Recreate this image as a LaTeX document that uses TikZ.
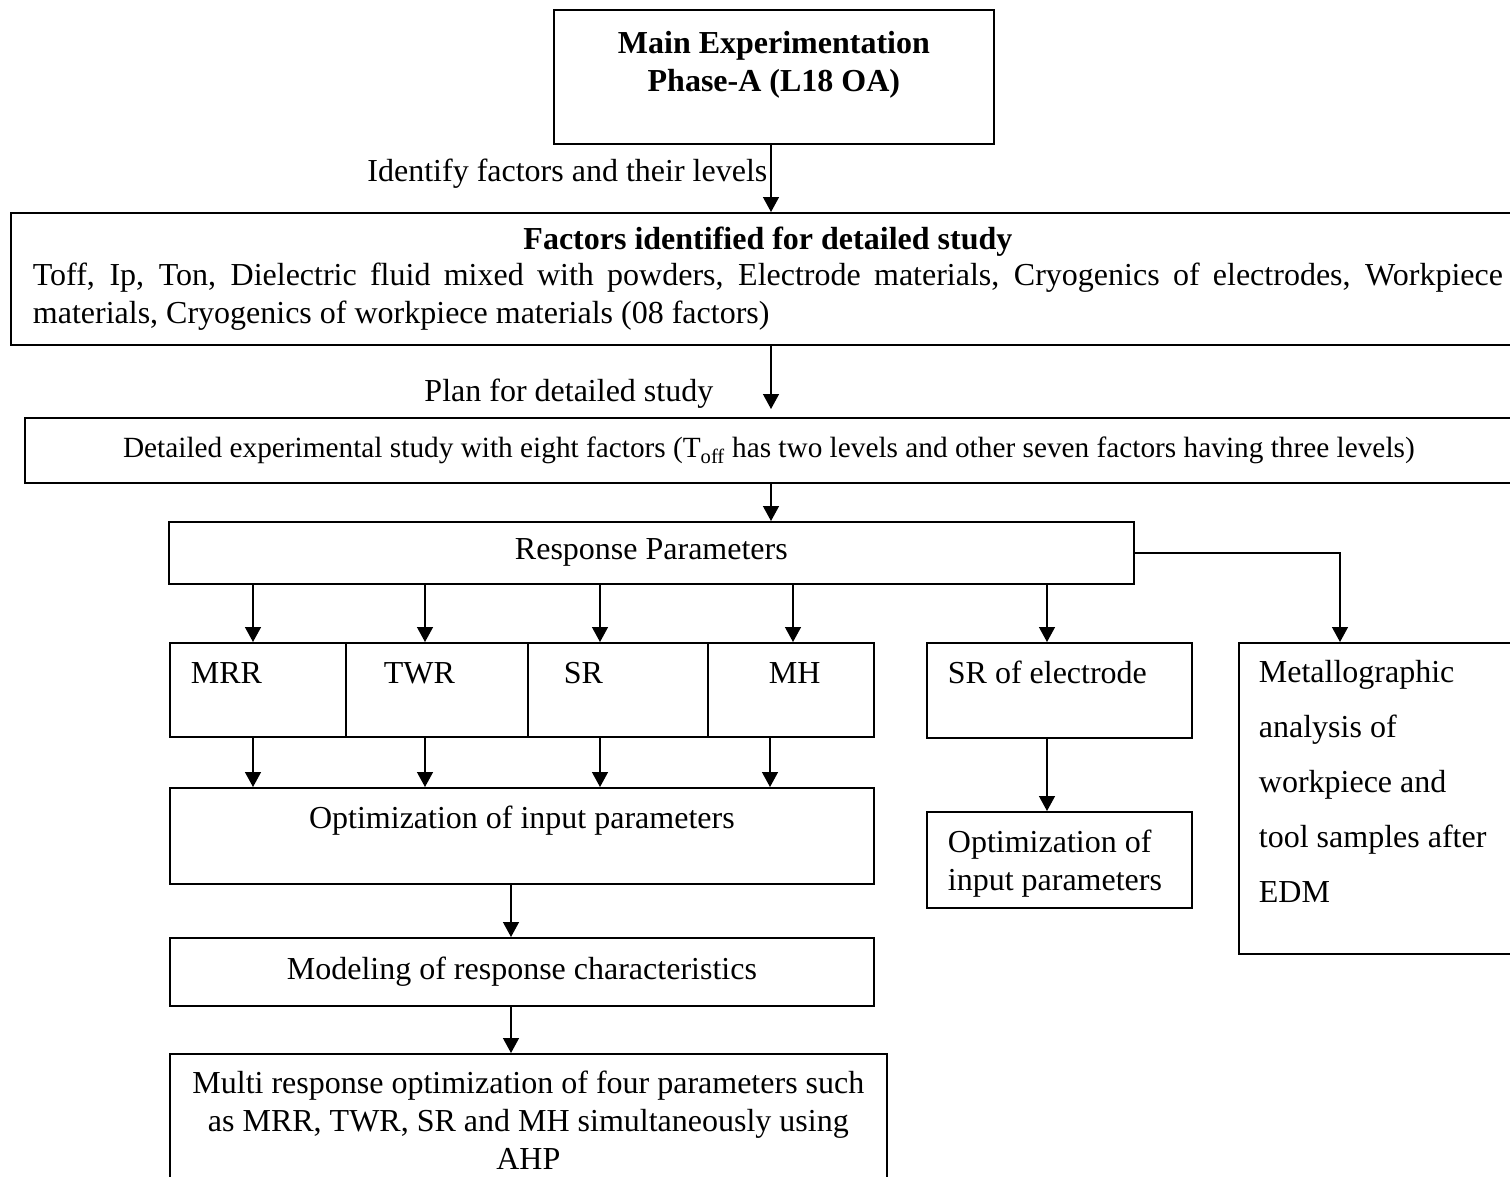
\documentclass[tikz,border=0pt]{standalone}
\usepackage{fontspec}
\setmainfont{Liberation Serif}
\usetikzlibrary{arrows.meta}

% text block inside a box: width, height, space above first line, alignment, content
\newcommand\boxtext[5]{\parbox[c][#2][t]{#1}{#4\vspace*{#3}\strut#5\par}}
% text block centred vertically in a box: width, height, content
\newcommand\midtext[3]{\parbox[c][#2][c]{#1}{\centering#3\par}}

\tikzset{
  box/.style={draw, line width=1.8pt, inner sep=0pt, anchor=north west},
  arr/.style={line width=1.4pt, -{Triangle[length=15pt,width=16pt]}},
  lbl/.style={inner sep=0pt},
}

\begin{document}
\begin{tikzpicture}[x=1pt, y=-1pt, font=\fontsize{32}{38}\selectfont]
\useasboundingbox (0,0) rectangle (1510,1176);
\clip (0,0) rectangle (1510,1176);

% ---- main chain -------------------------------------------------------
\node[box] (mainexp) at (553,9)
  {\boxtext{440pt}{134pt}{17pt}{\centering}{\textbf{Main Experimentation}\\\textbf{Phase-A (L18 OA)}}};

\node[box] (fac) at (10,212)
  {\begin{minipage}[c][132pt][c]{1514pt}
   \leftskip=22pt \rightskip=22pt \parindent=0pt \hyphenpenalty=10000
   \makebox[1470pt]{\textbf{Factors identified for detailed study}}\par
   \vspace{-2pt}%
   Toff, Ip, Ton, Dielectric fluid mixed with powders, Electrode materials, Cryogenics of electrodes, Workpiece\linebreak
   materials, Cryogenics of workpiece materials (08 factors)\par
   \end{minipage}};

\node[box] (det) at (24,417)
  {\midtext{1488pt}{65pt}{\fontsize{29.3}{34}\selectfont Detailed experimental study with eight factors (T\textsubscript{off} has two levels and other seven factors having three levels)}};

\node[box] (resp) at (168,521) {\midtext{965pt}{62pt}{Response Parameters}};

% ---- response parameters ----------------------------------------------
\node[box] (mrr) at (169,642) {\boxtext{176pt}{94pt}{14pt}{\raggedright\leftskip=21pt}{MRR}};
\node[box] (twr) at (345,642) {\boxtext{182pt}{94pt}{14pt}{\raggedright\leftskip=38pt}{TWR}};
\node[box] (sr)  at (527,642) {\boxtext{180pt}{94pt}{14pt}{\raggedright\leftskip=36pt}{SR}};
\node[box] (mh)  at (707,642) {\boxtext{166pt}{94pt}{14pt}{\raggedright\leftskip=61pt}{MH}};

\node[box] (sre) at (926,642) {\boxtext{265pt}{95pt}{14pt}{\raggedright\leftskip=21pt}{SR of electrode}};
\node[box] (opt2) at (926,811) {\boxtext{265pt}{96pt}{14pt}{\raggedright\leftskip=21pt}{Optimization of\\input parameters}};

\node[box] (meta) at (1238,642)
  {\boxtext{292pt}{311pt}{13pt}{\raggedright\leftskip=20pt\baselineskip=55pt}{Metallographic\\analysis of\\workpiece and\\tool samples after\\EDM}};

\node[box] (opt) at (169,787) {\boxtext{704pt}{96pt}{14pt}{\centering}{Optimization of input parameters}};
\node[box] (model) at (169,937) {\midtext{704pt}{68pt}{Modeling of response characteristics}};
\node[box] (multi) at (169,1053)
  {\boxtext{717pt}{140pt}{13pt}{\centering}{Multi response optimization of four parameters such\\as MRR, TWR, SR and MH simultaneously using\\AHP}};

% ---- connector columns ------------------------------------------------
\coordinate (sx) at (771,0);
\coordinate (a1) at (253,0);
\coordinate (a2) at (425,0);
\coordinate (a3) at (600,0);
\coordinate (a4) at (793,0);
\coordinate (b4) at (770,0);
\coordinate (c1) at (1047,0);
\coordinate (d1) at (1340,0);
\coordinate (e1) at (511,0);

\draw[arr] (sx |- mainexp.south) --
  node[lbl, pos=0.43, anchor=east, xshift=-3pt] {Identify factors and their levels}
  (sx |- fac.north);
\draw[arr, shorten >=8pt] (sx |- fac.south) --
  node[lbl, pos=0.67, anchor=east, xshift=-57pt] {Plan for detailed study}
  (sx |- det.north);
\draw[arr] (sx |- det.south) -- (sx |- resp.north);

\draw[arr] (a1 |- resp.south) -- (a1 |- mrr.north);
\draw[arr] (a2 |- resp.south) -- (a2 |- twr.north);
\draw[arr] (a3 |- resp.south) -- (a3 |- sr.north);
\draw[arr] (a4 |- resp.south) -- (a4 |- mh.north);
\draw[arr] (c1 |- resp.south) -- (c1 |- sre.north);
\draw[arr] (resp.east) -| (d1 |- meta.north);

\draw[arr] (a1 |- mrr.south) -- (a1 |- opt.north);
\draw[arr] (a2 |- twr.south) -- (a2 |- opt.north);
\draw[arr] (a3 |- sr.south) -- (a3 |- opt.north);
\draw[arr] (b4 |- mh.south) -- (b4 |- opt.north);
\draw[arr] (c1 |- sre.south) -- (c1 |- opt2.north);

\draw[arr] (e1 |- opt.south) -- (e1 |- model.north);
\draw[arr] (e1 |- model.south) -- (e1 |- multi.north);
\end{tikzpicture}
\end{document}
